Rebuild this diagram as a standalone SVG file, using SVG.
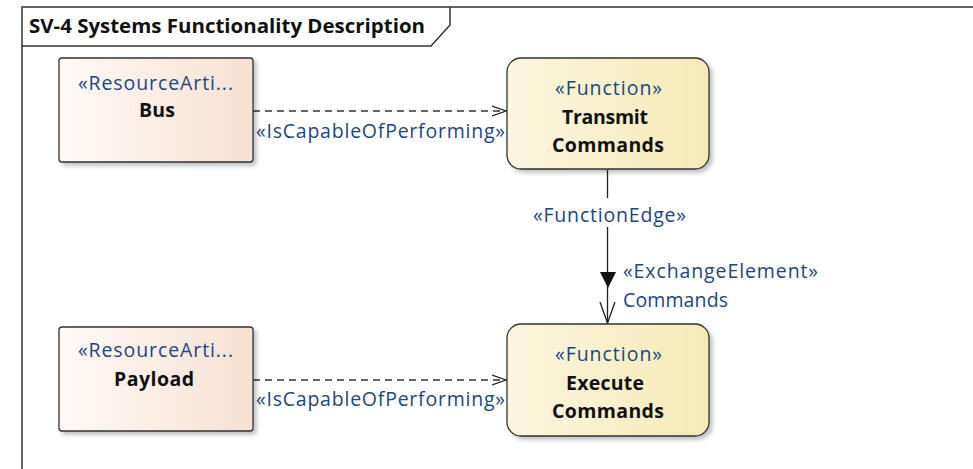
<svg xmlns="http://www.w3.org/2000/svg" width="973" height="469" viewBox="0 0 973 469">
  <defs>
    <linearGradient id="gradArtifact" x1="0" y1="0" x2="1" y2="0">
      <stop offset="0" stop-color="#fefaf7"/>
      <stop offset="1" stop-color="#f6e1d3"/>
    </linearGradient>
    <linearGradient id="gradFunction" x1="0" y1="0" x2="1" y2="0">
      <stop offset="0" stop-color="#fbf6e0"/>
      <stop offset="1" stop-color="#f5eab6"/>
    </linearGradient>
    <filter id="shadow" x="-10%" y="-10%" width="125%" height="130%">
      <feDropShadow dx="3" dy="3" stdDeviation="2" flood-color="#000" flood-opacity="0.25"/>
    </filter>
    <marker id="openArrow" markerWidth="16" markerHeight="12" refX="14" refY="6" orient="auto" markerUnits="userSpaceOnUse">
      <path d="M0,1 L14,6 L0,11" fill="none" stroke="#222" stroke-width="1.3"/>
    </marker>
  </defs>
  <style>
    .frame { fill: none; stroke: #333; stroke-width: 1.5; }
    .node { stroke: #333; stroke-width: 1.3; filter: url(#shadow); }
    .artifact { fill: url(#gradArtifact); }
    .function { fill: url(#gradFunction); }
    text { font-family: "Open Sans", "Noto Sans", "DejaVu Sans", sans-serif; font-size: 19.5px; }
    .stereo { fill: #1d4680; }
    .name { fill: #111; font-weight: bold; }
    .title { fill: #111; font-weight: bold; }
    .label { fill: #1d4680; }
    .dep { fill: none; stroke: #333; stroke-width: 1.3; stroke-dasharray: 7 5; }
    .flow { fill: none; stroke: #222; stroke-width: 1.3; }
  </style>

  <rect width="973" height="469" fill="#ffffff"/>

  <!-- diagram frame and title tab -->
  <g id="frame">
    <path class="frame" d="M22,469 L22,7 L973,7"/>
    <path class="frame" d="M22,46 L431,46 L450,25 L450,7"/>
    <text class="title" x="29" y="33" textLength="396" lengthAdjust="spacingAndGlyphs">SV-4 Systems Functionality Description</text>
  </g>

  <!-- connectors -->
  <g id="connectors">
    <line class="dep" x1="253" y1="111" x2="506" y2="111" marker-end="url(#openArrow)"/>
    <text class="label" x="256" y="138" textLength="249">«IsCapableOfPerforming»</text>

    <line class="dep" x1="253" y1="380" x2="506" y2="380" marker-end="url(#openArrow)"/>
    <text class="label" x="256" y="406" textLength="249">«IsCapableOfPerforming»</text>

    <line class="flow" x1="607.5" y1="170" x2="607.5" y2="198"/>
    <line class="flow" x1="607.5" y1="227" x2="607.5" y2="323"/>
    <path d="M600,272 L616,272 L608,288 Z" fill="#111"/>
    <path class="flow" d="M600,302 L607.5,323 L615,302"/>
    <text class="label" x="533" y="222" textLength="153">«FunctionEdge»</text>
    <text class="label" x="623" y="278" textLength="195">«ExchangeElement»</text>
    <text class="label" x="623" y="307" textLength="105">Commands</text>
  </g>

  <g id="bus">
    <rect class="node artifact" x="59" y="58" width="194" height="104" rx="3"/>
    <text class="stereo" x="78" y="90" textLength="155">«ResourceArti...</text>
    <text class="name" x="139" y="117" textLength="36">Bus</text>
  </g>

  <g id="payload">
    <rect class="node artifact" x="59" y="327" width="194" height="104" rx="3"/>
    <text class="stereo" x="78" y="357" textLength="155">«ResourceArti...</text>
    <text class="name" x="114" y="386" textLength="80">Payload</text>
  </g>

  <g id="transmit-commands">
    <rect class="node function" x="507" y="58" width="202" height="111" rx="14"/>
    <text class="stereo" x="555" y="95" textLength="107">«Function»</text>
    <text class="name" x="562" y="124" textLength="86">Transmit</text>
    <text class="name" x="552" y="152" textLength="112">Commands</text>
  </g>

  <g id="execute-commands">
    <rect class="node function" x="507" y="324" width="202" height="112" rx="14"/>
    <text class="stereo" x="555" y="361" textLength="107">«Function»</text>
    <text class="name" x="566" y="390" textLength="78">Execute</text>
    <text class="name" x="552" y="418" textLength="112">Commands</text>
  </g>
</svg>
